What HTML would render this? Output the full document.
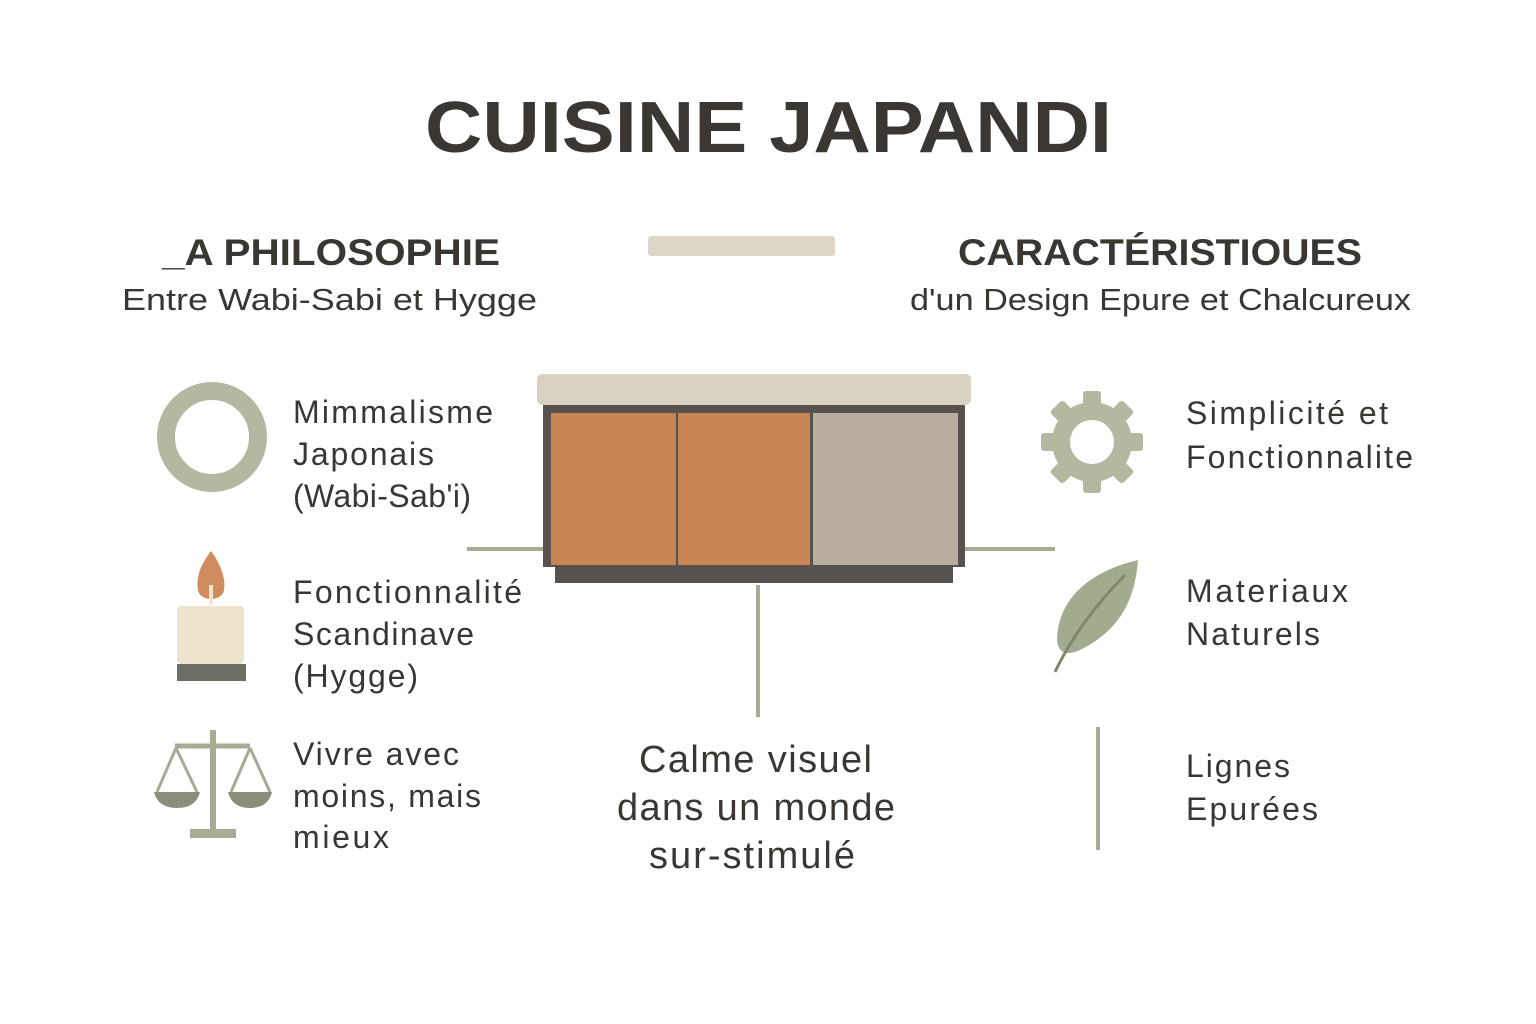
<!DOCTYPE html>
<html><head><meta charset="utf-8"><style>
html,body{margin:0;padding:0;background:#fff;}
svg{display:block}
text{font-family:"Liberation Sans",sans-serif;fill:#3a3733;}
</style></head><body>
<svg width="1536" height="1024" viewBox="0 0 1536 1024">
<rect width="1536" height="1024" fill="#fff"/>
<text x="425" y="152" font-size="72" font-weight="bold" textLength="687" lengthAdjust="spacingAndGlyphs">CUISINE JAPANDI</text>

<text x="162" y="265" font-size="37" font-weight="bold" textLength="338" lengthAdjust="spacingAndGlyphs">_A PHILOSOPHIE</text>
<text x="122" y="310" font-size="31" textLength="415" lengthAdjust="spacingAndGlyphs">Entre Wabi-Sabi et Hygge</text>
<text x="958" y="265" font-size="37" font-weight="bold" textLength="404" lengthAdjust="spacingAndGlyphs">CARACTÉRISTIOUES</text>
<text x="910" y="310" font-size="31" textLength="501" lengthAdjust="spacingAndGlyphs">d'un Design Epure et Chalcureux</text>
<rect x="648" y="236" width="187" height="20" rx="3" fill="#ddd7c9"/>

<!-- cabinet -->
<rect x="537" y="374" width="434" height="31" rx="5" fill="#d8d2c3"/>
<rect x="543" y="405" width="422" height="162" fill="#57524d"/>
<rect x="555" y="567" width="398" height="16" fill="#57524d"/>
<rect x="551" y="413" width="125" height="152" fill="#c98453"/>
<rect x="678" y="413" width="132" height="152" fill="#c98453"/>
<rect x="813" y="413" width="145" height="152" fill="#b8ae9f"/>
<g stroke="#a9aa94" stroke-width="4">
<line x1="467" y1="549" x2="543" y2="549"/>
<line x1="965" y1="549" x2="1055" y2="549"/>
<line x1="758" y1="585" x2="758" y2="717"/>
<line x1="1098" y1="727" x2="1098" y2="850"/>
</g>

<!-- left icons -->
<circle cx="212" cy="437" r="46" fill="none" stroke="#b5b7a1" stroke-width="18"/>
<path d="M211 551 C200 565 196 578 198 590 C200 602 222 602 224 590 C226 578 220 563 211 551Z" fill="#d08b5e"/>
<rect x="209" y="585" width="4" height="20" fill="#f3e6cf"/>
<rect x="177" y="606" width="67" height="58" rx="4" fill="#ece3cc"/>
<rect x="177" y="664" width="69" height="17" fill="#6e6d63"/>
<g fill="#a9aa94" stroke="#a9aa94">
<rect x="210" y="730" width="6" height="100" stroke="none"/>
<rect x="190" y="829" width="46" height="9" stroke="none"/>
<line x1="175" y1="746" x2="250" y2="746" stroke-width="5"/>
<line x1="176" y1="748" x2="157" y2="792" stroke-width="3" fill="none"/>
<line x1="176" y1="748" x2="197" y2="792" stroke-width="3" fill="none"/>
<line x1="250" y1="748" x2="231" y2="792" stroke-width="3" fill="none"/>
<line x1="250" y1="748" x2="270" y2="792" stroke-width="3" fill="none"/>
<path d="M154 792 L200 792 Q196 808 177 808 Q158 808 154 792Z" stroke="none" fill="#8c8d7a"/>
<path d="M228 792 L272 792 Q268 808 250 808 Q232 808 228 792Z" stroke="none" fill="#8c8d7a"/>
</g>

<!-- right icons -->
<g fill="#b5b7a1">
<circle cx="1092" cy="442" r="40"/>
<g>
<rect x="1083" y="391" width="18" height="102" rx="3"/>
<rect x="1083" y="391" width="18" height="102" rx="3" transform="rotate(45 1092 442)"/>
<rect x="1083" y="391" width="18" height="102" rx="3" transform="rotate(90 1092 442)"/>
<rect x="1083" y="391" width="18" height="102" rx="3" transform="rotate(135 1092 442)"/>
</g>
</g>
<circle cx="1092" cy="442" r="22" fill="#fff"/>
<path d="M1138 560 C1095 570 1058 595 1057 640 C1058 655 1070 655 1080 650 C1120 630 1135 600 1138 560Z" fill="#a3ab8f"/>
<path d="M1125 575 C1095 605 1070 640 1055 672" stroke="#7f876d" stroke-width="3" fill="none"/>

<!-- text items -->
<g font-size="32" lengthAdjust="spacingAndGlyphs">
<text x="293" y="423" textLength="200">Mimmalisme</text>
<text x="293" y="465" textLength="141">Japonais</text>
<text x="293" y="507" textLength="178">(Wabi-Sab'i)</text>
<text x="293" y="603" textLength="229">Fonctionnalité</text>
<text x="293" y="645" textLength="181">Scandinave</text>
<text x="293" y="687" textLength="125">(Hygge)</text>
<text x="293" y="765" textLength="166">Vivre avec</text>
<text x="293" y="807" textLength="188">moins, mais</text>
<text x="293" y="848" textLength="96">mieux</text>
<text x="1186" y="424" textLength="202">Simplicité et</text>
<text x="1186" y="468" textLength="227">Fonctionnalite</text>
<text x="1186" y="602" textLength="162">Materiaux</text>
<text x="1186" y="645" textLength="134">Naturels</text>
<text x="1186" y="777" textLength="104">Lignes</text>
<text x="1186" y="820" textLength="132">Epurées</text>
</g>
<g font-size="38" lengthAdjust="spacingAndGlyphs">
<text x="639" y="772" textLength="233">Calme visuel</text>
<text x="617" y="820" textLength="278">dans un monde</text>
<text x="649" y="868" textLength="206">sur-stimulé</text>
</g>
</svg>
</body></html>
